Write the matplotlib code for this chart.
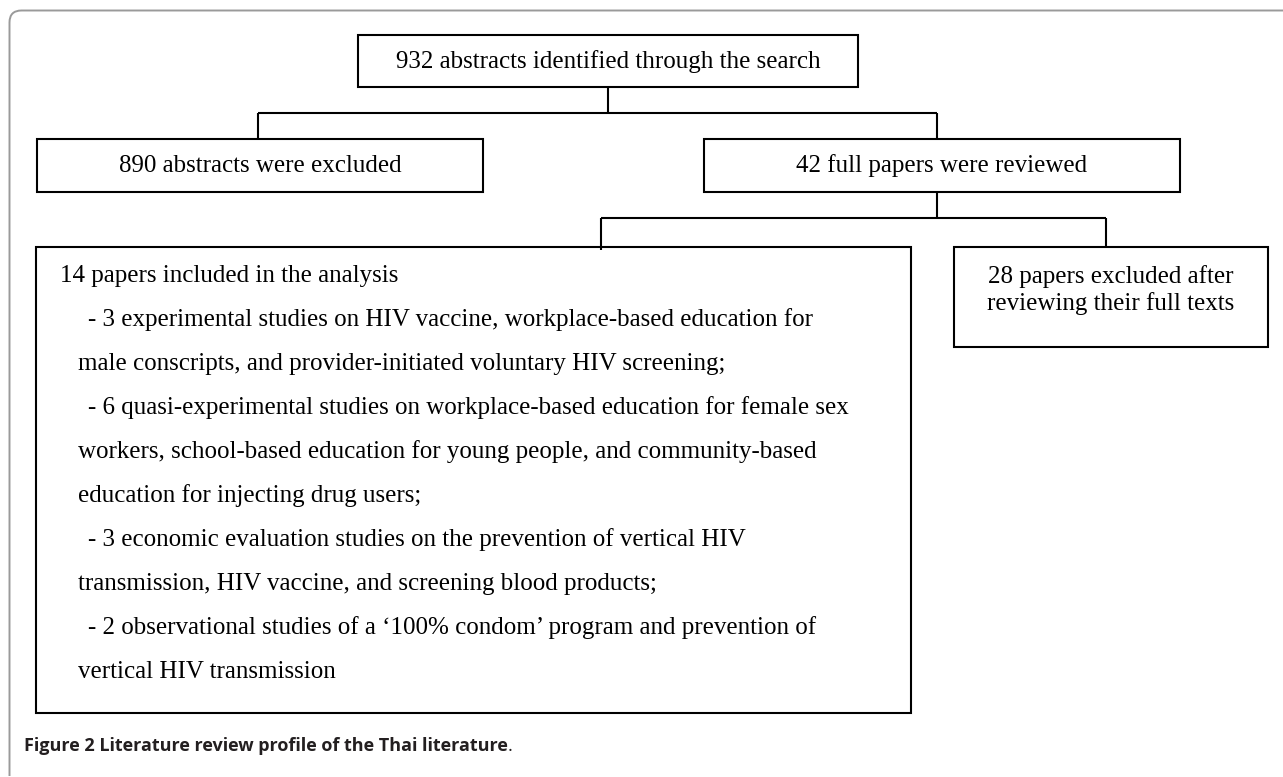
import matplotlib
matplotlib.use("Agg")
import matplotlib.pyplot as plt
from matplotlib.patches import Rectangle
from matplotlib.path import Path
from matplotlib.patches import PathPatch

# texts of the flow chart
top_text = "932 abstracts identified through the search"
excl_text = "890 abstracts were excluded"
full_text = "42 full papers were reviewed"
right_text = "28 papers excluded after\nreviewing their full texts"
incl_lines = [
    "14 papers included in the analysis",
    "- 3 experimental studies on HIV vaccine, workplace-based education for",
    "male conscripts, and provider-initiated voluntary HIV screening;",
    "- 6 quasi-experimental studies on workplace-based education for female sex",
    "workers, school-based education for young people, and community-based",
    "education for injecting drug users;",
    "- 3 economic evaluation studies on the prevention of vertical HIV",
    "transmission, HIV vaccine, and screening blood products;",
    "- 2 observational studies of a \u2018100% condom\u2019 program and prevention of",
    "vertical HIV transmission",
]
indent = [0, 2, 1, 2, 1, 1, 2, 1, 2, 1]
caption_bold = "Figure 2 Literature review profile of the Thai literature"

W, H = 1283, 777
fig = plt.figure(figsize=(W / 100, H / 100), dpi=100)
ax = fig.add_axes([0, 0, 1, 1])
ax.set_xlim(0, W)
ax.set_ylim(H, 0)
ax.axis("off")

serif = "Liberation Serif"
fs = 18
lw = 1.5


def box(x0, y0, x1, y1):
    ax.add_patch(Rectangle((x0, y0), x1 - x0, y1 - y0, fill=False,
                           edgecolor="black", linewidth=lw))


def line(xs, ys):
    ax.plot(xs, ys, color="black", linewidth=lw, solid_capstyle="butt")


# outer frame (top and left edge, rounded corner)
r = 12
verts = [(W + 5, 10.5), (9.5 + r, 10.5), (9.5, 10.5), (9.5, 10.5 + r), (9.5, 776)]
codes = [Path.MOVETO, Path.LINETO, Path.CURVE3, Path.CURVE3, Path.LINETO]
ax.add_patch(PathPatch(Path(verts, codes), fill=False, edgecolor="#9a9a9a", linewidth=1.4))

# top box
box(358, 35, 858, 87)
ax.text(608, 62, top_text, fontsize=fs, family=serif, ha="center", va="center")
line([608, 608], [87, 113])
line([258, 937], [113, 113])
line([258, 258], [113, 139])
line([937, 937], [113, 139])

# second row
box(37, 139, 483, 192)
ax.text(260, 166, excl_text, fontsize=fs, family=serif, ha="center", va="center")
box(704, 139, 1180, 192)
ax.text(942, 166, full_text, fontsize=fs, family=serif, ha="center", va="center")
line([937, 937], [192, 218])
line([601, 1106], [218, 218])
line([601, 601], [218, 250])
line([1106, 1106], [218, 247])

# included papers box
box(36, 247, 911, 713)
xpos = [60, 78, 88]
for i, t in enumerate(incl_lines):
    ax.text(xpos[indent[i]], 276 + 44 * i, t, fontsize=fs, family=serif,
            ha="left", va="center")

# excluded after full text
box(954, 247, 1268, 347)
ax.text(1111, 290, right_text, fontsize=fs, family=serif, ha="center",
        va="center", linespacing=1.2)

# caption
cap = ax.text(24, 746, caption_bold, fontsize=13, family="Open Sans",
              fontweight="bold", color="#231f20", ha="left", va="center")
fig.canvas.draw()
bb = cap.get_window_extent()
xend = ax.transData.inverted().transform((bb.x1, bb.y0))[0]
ax.text(xend, 746, ".", fontsize=13, family="Open Sans", color="#231f20",
        ha="left", va="center")

fig.savefig("out.png", dpi=100)
